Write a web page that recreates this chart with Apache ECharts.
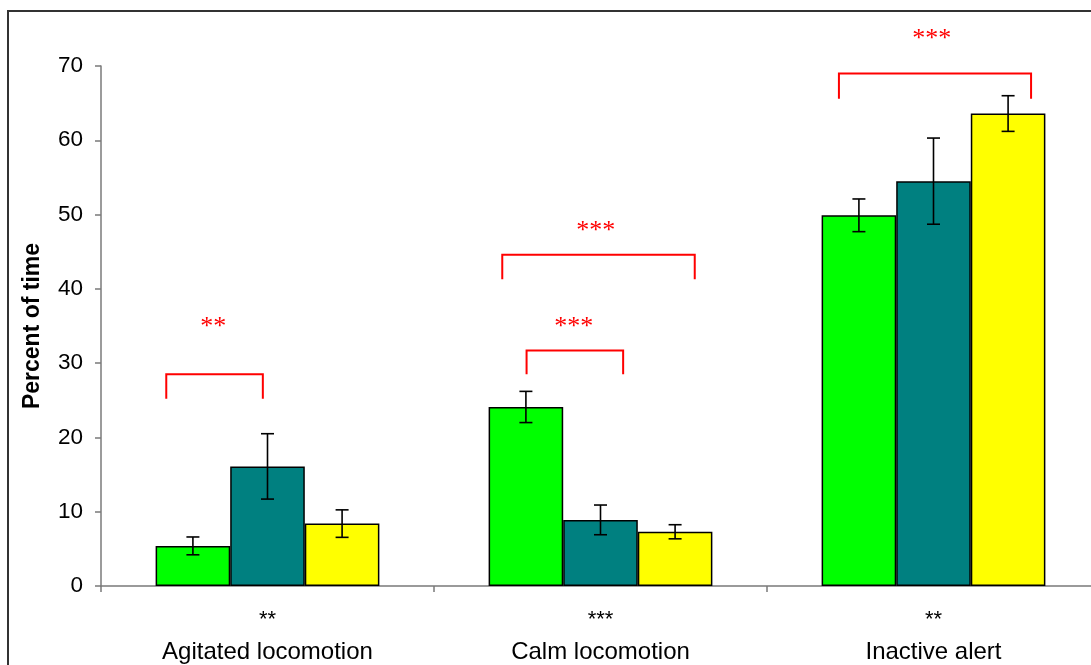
<!DOCTYPE html>
<html>
<head>
<meta charset="utf-8">
<script src="https://cdn.jsdelivr.net/npm/echarts@6/dist/echarts.min.js"></script>
<style>
  html, body { margin: 0; padding: 0; background: #fff; }
  #chart { width: 1091px; height: 665px; }
</style>
</head>
<body>
<div id="chart"></div>
<script>
  // categories and the small marks printed under each one
  const categories = ['Agitated locomotion', 'Calm locomotion', 'Inactive alert'];
  const belowMarks = ['**', '***', '**'];

  // bar means (green, teal, yellow) and their error half-widths
  const greenVals = [5.4, 24.1, 49.9];
  const tealVals = [16.1, 8.9, 54.5];
  const yellowVals = [8.4, 7.3, 63.6];
  const greenErr = [1.2, 2.1, 2.2];
  const tealErr = [4.4, 2.0, 5.8];
  const yellowErr = [1.85, 0.95, 2.4];

  // red significance brackets: category, start/end as fraction of category width from its centre
  const bracketCat = [0, 1, 1, 2];
  const bracketFrom = [-0.304, -0.222, -0.295, -0.284];
  const bracketTo = [-0.014, 0.068, 0.283, 0.293];
  const bracketTop = [28.5, 31.7, 44.6, 69.0];
  const bracketFoot = [25.2, 28.5, 41.3, 65.6];
  const starText = ['**', '***', '***', '***'];
  const starX = [-0.163, -0.080, -0.014, -0.005];
  const starY = [35.4, 35.4, 48.3, 74.2];

  const yTicks = [0, 70, 10]; // min, max, step

  const BAR_PCT = 0.224;
  const myChart = echarts.init(document.getElementById('chart'));

  const errData = [];
  [greenVals, tealVals, yellowVals].forEach((vals, s) => {
    const errs = [greenErr, tealErr, yellowErr][s];
    vals.forEach((v, i) => errData.push([i, s, v, errs[i]]));
  });
  const bracketData = bracketCat.map((c, i) => [c, bracketFrom[i], bracketTo[i], bracketTop[i], bracketFoot[i]]);
  const starData = starText.map((t, i) => [bracketCat[i], starX[i], starY[i], t]);

  const barStyle = (color) => ({ color: color, borderColor: '#000', borderWidth: 1.5 });

  let option = {
    animation: false,
    backgroundColor: '#fff',
    graphic: [{
      type: 'rect',
      shape: { x: 8, y: 11, width: 1200, height: 800 },
      style: { fill: 'none', stroke: '#333', lineWidth: 2 },
      silent: true
    }],
    // the plot runs a little past the right edge of the picture
    grid: { left: 101, top: 66, width: 999, bottom: 79, outerBoundsMode: 'none', containLabel: false },
    xAxis: {
      type: 'category',
      data: categories,
      axisLine: { lineStyle: { color: '#7a7a7a', width: 1.5 } },
      axisTick: { show: true, alignWithLabel: false, length: 6, lineStyle: { color: '#7a7a7a', width: 1.5 } },
      axisLabel: {
        margin: 18,
        interval: 0,
        formatter: (v, i) => '{s|' + belowMarks[i] + '}\n{c|' + v + '}',
        rich: {
          s: { fontFamily: 'Liberation Sans, Arial', fontSize: 22, lineHeight: 32, color: '#000' },
          c: { fontFamily: 'Liberation Sans, Arial', fontSize: 24, lineHeight: 32, color: '#000' }
        }
      }
    },
    yAxis: {
      type: 'value',
      min: yTicks[0],
      max: yTicks[1],
      interval: yTicks[2],
      name: 'Percent of time',
      nameLocation: 'middle',
      nameGap: 57,
      nameTextStyle: { fontFamily: 'Liberation Sans, Arial', fontWeight: 'bold', fontSize: 23, color: '#000' },
      axisLine: { show: true, lineStyle: { color: '#7a7a7a', width: 1.5 } },
      axisTick: { show: true, length: 6, lineStyle: { color: '#7a7a7a', width: 1.5 } },
      axisLabel: { margin: 18, fontFamily: 'Liberation Sans, Arial', fontSize: 22.5, color: '#000' },
      splitLine: { show: false }
    },
    series: [
      { type: 'bar', data: greenVals, barWidth: (BAR_PCT * 100) + '%', barGap: 0, itemStyle: barStyle('#00ff00') },
      { type: 'bar', data: tealVals, barWidth: (BAR_PCT * 100) + '%', barGap: 0, itemStyle: barStyle('#008080') },
      { type: 'bar', data: yellowVals, barWidth: (BAR_PCT * 100) + '%', barGap: 0, itemStyle: barStyle('#ffff00') },
      {
        // error bars
        type: 'custom',
        clip: false,
        z: 5,
        data: errData,
        renderItem: function (params, api) {
          const band = api.size([1, 0])[0];
          const dx = (api.value(1) - 1) * band * BAR_PCT;
          const hi = api.coord([api.value(0), api.value(2) + api.value(3)]);
          const lo = api.coord([api.value(0), api.value(2) - api.value(3)]);
          const x = hi[0] + dx;
          const cap = 6.5;
          const st = { stroke: '#000', lineWidth: 1.6 };
          return {
            type: 'group',
            children: [
              { type: 'line', shape: { x1: x, y1: hi[1], x2: x, y2: lo[1] }, style: st },
              { type: 'line', shape: { x1: x - cap, y1: hi[1], x2: x + cap, y2: hi[1] }, style: st },
              { type: 'line', shape: { x1: x - cap, y1: lo[1], x2: x + cap, y2: lo[1] }, style: st }
            ]
          };
        }
      },
      {
        // red brackets
        type: 'custom',
        clip: false,
        z: 6,
        data: bracketData,
        renderItem: function (params, api) {
          const band = api.size([1, 0])[0];
          const top = api.coord([api.value(0), api.value(3)]);
          const foot = api.coord([api.value(0), api.value(4)]);
          const x1 = top[0] + api.value(1) * band;
          const x2 = top[0] + api.value(2) * band;
          return {
            type: 'polyline',
            shape: { points: [[x1, foot[1]], [x1, top[1]], [x2, top[1]], [x2, foot[1]]] },
            style: { stroke: '#ff0000', lineWidth: 2, fill: 'none' }
          };
        }
      },
      {
        // red asterisks
        type: 'custom',
        clip: false,
        z: 6,
        data: starData,
        renderItem: function (params, api) {
          const band = api.size([1, 0])[0];
          const p = api.coord([api.value(0), api.value(2)]);
          return {
            type: 'text',
            x: p[0] + api.value(1) * band,
            y: p[1] + 4,
            style: {
              text: starText[params.dataIndex],
              fill: '#ff0000',
              font: '26px "Liberation Serif", "Times New Roman", serif',
              align: 'center',
              verticalAlign: 'middle'
            }
          };
        }
      }
    ]
  };
  myChart.setOption(option);
</script>
</body>
</html>
